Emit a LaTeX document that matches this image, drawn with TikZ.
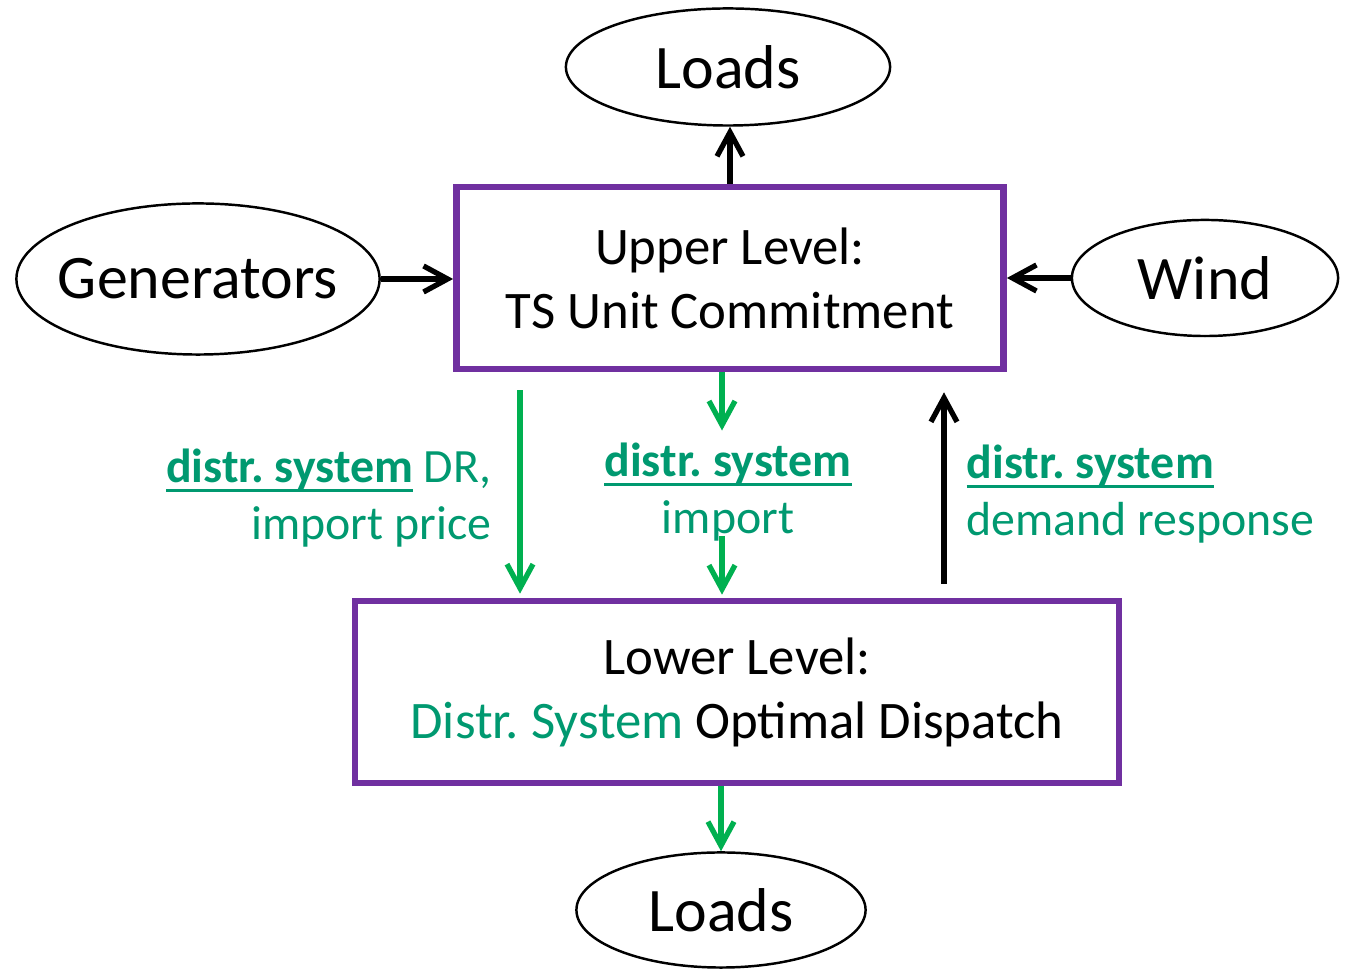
\documentclass[tikz,border=0pt]{standalone}
\usepackage{fontspec}
\setmainfont{Carlito}
\usetikzlibrary{shapes.geometric,arrows.meta}
\frenchspacing

\definecolor{lvlpurple}{RGB}{112,48,160}
\definecolor{arrgreen}{RGB}{0,176,80}
\definecolor{txtgreen}{RGB}{0,153,112}

% bold, underlined "distr. system"
\newcommand{\dsys}{\setbox0\hbox{\bfseries distr. system}%
  \rlap{\rule[-\dimexpr\dp0+0.4pt\relax]{\wd0}{0.85pt}}\box0}

\tikzset{
  bus/.style={ellipse, draw, line width=0.7pt, inner sep=0pt,
    font=\fontsize{17.6}{21}\selectfont},
  level/.style={draw=lvlpurple, line width=0.065cm, align=center,
    minimum height=1.82cm, font=\fontsize{15}{18.2}\selectfont},
  flow/.style={text=txtgreen, inner sep=0pt, font=\fontsize{13.6}{16}\selectfont},
  karrow/.style={line width=1.5pt, -{Straight Barb[length=2.4mm,width=2.6mm]}},
  garrow/.style={arrgreen, line width=1.5pt, -{Straight Barb[length=2.4mm,width=2.6mm]}}
}

\begin{document}
\begin{tikzpicture}[x=0.01cm,y=0.01cm]
    \useasboundingbox (0,0) rectangle (1345,973);

    % the two levels
    \node[level, minimum width=5.47cm] (up) at (730,695) {Upper Level:\\TS Unit Commitment};
    \node[level, minimum width=7.64cm] (low) at (737,281)
        {Lower Level:\\{\color{txtgreen}Distr. System} Optimal Dispatch};

    % outside the levels
    \node[bus, minimum width=3.24cm, minimum height=1.17cm] (loadtop) at (728,906) {Loads};
    \node[bus, inner xsep=-0.15cm, minimum width=3.63cm, minimum height=1.51cm] (gen) at (198,694) {Generators};
    \node[bus, minimum width=2.66cm, minimum height=1.16cm] (wind) at (1205,695) {Wind};
    \node[bus, minimum width=2.89cm, minimum height=1.15cm] (loadbot) at (721,63) {Loads};

    % exchanged quantities
    \node[flow, anchor=east, align=right] (lblL) at (492,475) {\dsys{} DR,\\import price};
    \node[flow, align=center] (lblM) at (728,481) {\dsys\\import};
    \node[flow, anchor=west, align=left] (lblR) at (966,479) {\dsys\\demand response};

    \coordinate (dl) at (520,0);
    \coordinate (dm) at (722,0);
    \coordinate (dr) at (944,0);

    \draw[karrow] (up.north) -- (up.north |- loadtop.south);
    \draw[karrow] (gen.east) -- (gen.east -| up.west);
    \draw[karrow] (wind.west) -- (wind.west -| up.east);

    \draw[garrow, shorten <=0.18cm, shorten >=0.04cm] (dl |- up.south) -- (dl |- low.north);
    \draw[garrow, shorten >=0.12cm] (dm |- up.south) -- (dm |- lblM.north);
    \draw[garrow, shorten <=-0.05cm, shorten >=0.03cm] (dm |- lblM.south) -- (dm |- low.north);
    \draw[karrow, shorten <=0.14cm, shorten >=0.2cm] (dr |- low.north) -- (dr |- up.south);

    \draw[garrow] (loadbot.north |- low.south) -- (loadbot.north);
\end{tikzpicture}
\end{document}
